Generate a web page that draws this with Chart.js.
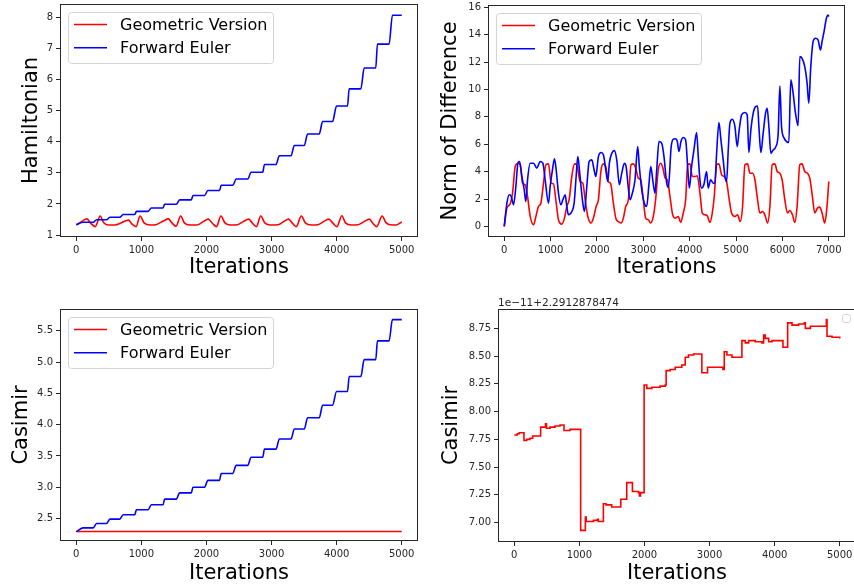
<!DOCTYPE html>
<html>
<head>
<meta charset="utf-8">
<script src="https://cdn.jsdelivr.net/npm/chart.js@4.4.1/dist/chart.umd.min.js"></script>
<style>
html, body { margin: 0; padding: 0; background: #fff; overflow: hidden; width: 854px; height: 586px; }
.box { position: absolute; }
</style>
</head>
<body>
<div class="box" style="left:0px;top:0px"><canvas id="c1" width="430" height="290"></canvas></div>
<div class="box" style="left:430px;top:0px"><canvas id="c2" width="424" height="290"></canvas></div>
<div class="box" style="left:0px;top:290px"><canvas id="c3" width="430" height="296"></canvas></div>
<div class="box" style="left:430px;top:290px"><canvas id="c4" width="430" height="296"></canvas></div>
<script>
var seriesNames = ['Geometric Version', 'Forward Euler'];

// tick values
var iterTicks = [0, 1000, 2000, 3000, 4000, 5000];
var normIterTicks = [0, 1000, 2000, 3000, 4000, 5000, 6000, 7000];
var hamTicks = [1, 2, 3, 4, 5, 6, 7, 8];
var normTicks = [0, 2, 4, 6, 8, 10, 12, 14, 16];
var casTicks = [2.5, 3.0, 3.5, 4.0, 4.5, 5.0, 5.5];
var casZoomTicks = [7.00, 7.25, 7.50, 7.75, 8.00, 8.25, 8.50, 8.75];

// Hamiltonian, geometric version
var hamGeoX = [0, 87, 163, 214, 291, 368, 419, 495, 598, 700, 802, 853, 919, 980, 1042, 1134, 1236, 1338, 1415, 1466,
  1532, 1604, 1660, 1747, 1849, 1951, 2028, 2094, 2155, 2222, 2283, 2375, 2477, 2564, 2651, 2707, 2768, 2834, 2896, 2988,
  3100, 3187, 3263, 3320, 3381, 3457, 3519, 3611, 3713, 3800, 3881, 3943, 4004, 4080, 4136, 4228, 4330, 4422, 4504, 4555,
  4617, 4698, 4760, 4852, 4913, 5000];
var hamGeoY = [1.33, 1.44, 1.52, 1.40, 1.27, 1.61, 1.40, 1.32, 1.32, 1.40, 1.48, 1.36, 1.27, 1.61, 1.39, 1.32, 1.34, 1.45, 1.52, 1.40,
  1.28, 1.61, 1.39, 1.32, 1.32, 1.43, 1.51, 1.37, 1.27, 1.61, 1.39, 1.32, 1.33, 1.43, 1.51, 1.38, 1.27, 1.61, 1.39, 1.32,
  1.33, 1.43, 1.51, 1.38, 1.27, 1.61, 1.39, 1.32, 1.33, 1.43, 1.51, 1.38, 1.27, 1.62, 1.39, 1.32, 1.33, 1.43, 1.51, 1.38,
  1.27, 1.61, 1.39, 1.32, 1.32, 1.42];

// forward euler staircases (flat start / flat end of each step)
var stepStartX = [107, 312, 516, 720, 924, 1154, 1358, 1588, 1793, 2022, 2227, 2456, 2686, 2891, 3120, 3350, 3554, 3784, 3999, 4193, 4423, 4627, 4857];
var stepEndX = [260, 465, 669, 899, 1103, 1333, 1537, 1767, 1971, 2201, 2405, 2635, 2865, 3069, 3299, 3503, 3733, 3937, 4167, 4372, 4601, 4806, 5000];
var hamEulerStart = 1.33;
var hamEulerLevels = [1.41, 1.49, 1.57, 1.66, 1.76, 1.87, 1.99, 2.13, 2.27, 2.43, 2.60, 2.80, 3.02, 3.27, 3.55, 3.88, 4.25, 4.65, 5.15, 5.70, 6.37, 7.14, 8.07];
var casEulerStart = 2.29;
var casEulerLevels = [2.35, 2.42, 2.49, 2.56, 2.64, 2.72, 2.81, 2.91, 3.00, 3.11, 3.22, 3.35, 3.48, 3.61, 3.77, 3.93, 4.11, 4.31, 4.53, 4.77, 5.04, 5.34, 5.68];

// Casimir, geometric version
var casGeoX = [0, 5000];
var casGeoY = [2.2913, 2.2913];

// norm of difference
var normGeoX = [0, 58, 129, 179, 237, 295, 345, 395, 452, 503, 560, 632, 683, 740, 790, 847, 898, 955, 1012, 1062,
  1113, 1170, 1242, 1299, 1350, 1400, 1458, 1515, 1565, 1637, 1695, 1745, 1803, 1874, 1924, 1982, 2031, 2089, 2139, 2190,
  2247, 2297, 2354, 2412, 2462, 2520, 2570, 2620, 2677, 2735, 2785, 2836, 2892, 2943, 3000, 3050, 3107, 3158, 3215, 3265,
  3322, 3373, 3420, 3470, 3520, 3575, 3630, 3683, 3755, 3806, 3862, 3913, 3956, 4006, 4056, 4114, 4164, 4222, 4272, 4329,
  4379, 4437, 4487, 4530, 4581, 4631, 4689, 4746, 4796, 4853, 4904, 4976, 5033, 5091, 5141, 5191, 5249, 5299, 5357, 5407,
  5464, 5514, 5572, 5622, 5680, 5730, 5779, 5837, 5887, 5945, 5994, 6052, 6109, 6159, 6217, 6267, 6317, 6375, 6424, 6482,
  6540, 6590, 6647, 6697, 6755, 6805, 6855, 6913, 6962, 7000];
var normGeoY = [0, 1.34, 1.66, 2.43, 4.38, 4.62, 4.5, 3.16, 3.04, 2.19, 0.73, 0.12, 0.73, 1.46, 1.7, 3.16, 4.5, 4.57, 3.16, 3.11,
  1.95, 0.49, 0.17, 0.61, 1.46, 1.95, 3.65, 4.57, 4.5, 3.28, 3.16, 1.95, 0.73, 0.25, 0.61, 1.46, 1.95, 4.14, 4.57, 4.38,
  3.28, 3.11, 1.7, 0.54, 0.36, 0.25, 0.61, 1.46, 1.95, 4.5, 4.57, 4.26, 3.53, 3.41, 1.95, 0.61, 0.49, 0.25, 0.73, 1.95,
  4.14, 4.62, 4.3, 3.55, 3.4, 2.2, 0.9, 0.61, 0.73, 0.29, 0.98, 1.95, 4.5, 4.57, 3.65, 3.65, 3.7, 2.43, 0.98, 0.85,
  0.78, 0.29, 0.98, 2.19, 4.5, 4.57, 3.77, 3.65, 3.28, 1.95, 0.98, 0.73, 0.85, 0.36, 1.46, 4.5, 4.57, 3.89, 3.89, 3.41,
  1.95, 0.98, 1.09, 0.85, 0.25, 1.46, 4.5, 4.57, 4.01, 3.89, 3.41, 1.95, 0.98, 1.17, 0.85, 0.29, 1.46, 4.5, 4.57, 4.01,
  3.89, 3.53, 2.19, 0.98, 1.34, 1.41, 0.98, 0.25, 1.46, 3.28];
var normEulerX = [0, 58, 108, 151, 201, 251, 295, 330, 381, 431, 467, 503, 560, 632, 703, 775, 833, 883, 955, 991,
  1040, 1084, 1120, 1170, 1221, 1264, 1314, 1350, 1385, 1458, 1508, 1551, 1587, 1622, 1686, 1730, 1781, 1831, 1889, 1938,
  1975, 2031, 2089, 2139, 2190, 2233, 2268, 2320, 2376, 2427, 2483, 2535, 2591, 2628, 2677, 2714, 2763, 2821, 2879, 2914,
  2966, 3022, 3073, 3123, 3160, 3203, 3252, 3289, 3338, 3396, 3446, 3504, 3540, 3600, 3640, 3690, 3733, 3769, 3812, 3862,
  3913, 3956, 3991, 4042, 4092, 4150, 4185, 4221, 4257, 4305, 4365, 4400, 4451, 4508, 4544, 4581, 4631, 4674, 4723, 4760,
  4796, 4832, 4868, 4918, 4976, 5025, 5068, 5120, 5191, 5240, 5277, 5320, 5370, 5422, 5465, 5493, 5536, 5585, 5637, 5671,
  5708, 5751, 5801, 5859, 5909, 5945, 5981, 6038, 6089, 6138, 6181, 6231, 6282, 6339, 6375, 6424, 6482, 6532, 6569, 6612,
  6662, 6712, 6769, 6820, 6855, 6898, 6949, 6984, 7000];
var normEulerY = [0, 1.7, 2.31, 2.19, 1.58, 2.92, 4.62, 4.74, 3.65, 2.68, 1.82, 3.41, 4.62, 4.62, 4.26, 4.74, 4.62, 3.41, 1.7, 2.92,
  4.14, 4.94, 4.14, 2.43, 1.58, 1.95, 2.31, 1.46, 0.85, 1.09, 1.7, 3.65, 5.1, 4.14, 1.95, 1.09, 2.92, 4.74, 4.86, 4.14,
  3.65, 5.1, 5.4, 5.23, 4.14, 3.28, 4.62, 5.35, 5.54, 4.86, 3.04, 3.89, 4.62, 4.38, 2.8, 1.95, 2.43, 3.41, 5.83, 4.38,
  2.68, 1.7, 1.46, 3.16, 4.38, 3.41, 2.43, 4.14, 6.2, 6.08, 5.1, 3.16, 2.85, 5.8, 6.35, 6.4, 6.2, 5.47, 6.2, 6.49,
  6.32, 4.38, 2.8, 4.38, 5.59, 6.86, 5.1, 3.41, 2.8, 3.04, 4.01, 2.8, 3.41, 3.16, 3.16, 5.35, 7.59, 6.32, 4.86, 3.65,
  3.28, 5.59, 7.54, 7.83, 7.29, 5.83, 7.05, 8.15, 8.32, 8.15, 5.4, 7.05, 8.27, 8.75, 8.8, 7.29, 5.4, 6.81, 8.27, 8.63,
  7.29, 5.35, 5.59, 5.83, 6.81, 10.26, 7.29, 6.45, 6.2, 6.13, 10.7, 9.73, 8.27, 7.35, 12.4, 12.28, 11.67, 10.46, 9.0, 11.67,
  13.5, 13.74, 13.62, 12.89, 13.5, 14.22, 15.2, 15.44, 15.32];

// Casimir of geometric version, zoomed (values in 1e-11 above 2.2912878474)
var casZoomX = [0, 46, 77, 149, 190, 241, 282, 405, 480, 495, 549, 626, 703, 764, 856, 1020, 1092, 1105, 1215, 1277,
  1292, 1369, 1410, 1497, 1636, 1728, 1815, 1908, 1923, 1940, 1995, 2036, 2113, 2241, 2318, 2333, 2395, 2472, 2574, 2626,
  2677, 2754, 2882, 2969, 3205, 3226, 3267, 3344, 3497, 3549, 3600, 3702, 3805, 3831, 3856, 3908, 3959, 4128, 4200, 4267,
  4369, 4456, 4472, 4549, 4795, 4805, 4882, 5000];
var casZoomY = [7.79, 7.80, 7.81, 7.74, 7.75, 7.76, 7.78, 7.86, 7.89, 7.85, 7.86, 7.87, 7.88, 7.83, 7.84, 6.93, 7.05, 7.01, 7.02, 7.03,
  7.01, 7.17, 7.16, 7.14, 7.21, 7.36, 7.28, 7.27, 7.24, 7.27, 8.24, 8.21, 8.22, 8.23, 8.24, 8.37, 8.38, 8.40, 8.42, 8.49,
  8.51, 8.52, 8.35, 8.40, 8.38, 8.54, 8.51, 8.49, 8.64, 8.62, 8.64, 8.63, 8.62, 8.69, 8.66, 8.63, 8.64, 8.58, 8.80, 8.78,
  8.79, 8.80, 8.75, 8.77, 8.83, 8.68, 8.67, 8.66];

Chart.defaults.font.family = '"DejaVu Sans", sans-serif';

var pts = function (xs, ys) {
  return xs.map(function (x, i) { return { x: x, y: ys[i] }; });
};

var staircase = function (start, levels) {
  var out = [{ x: 0, y: start }];
  for (var i = 0; i < levels.length; i++) {
    out.push({ x: stepStartX[i], y: levels[i] });
    out.push({ x: stepEndX[i], y: levels[i] });
  }
  return out;
};

var framePlugin = {
  id: 'frame',
  afterDraw: function (chart, args, o) {
    var a = chart.chartArea;
    var ctx = chart.ctx;
    ctx.save();
    ctx.strokeStyle = '#262626';
    ctx.lineWidth = 1;
    ctx.strokeRect(a.left + 0.5, a.top + 0.5, a.right - a.left - 1, a.bottom - a.top - 1);
    if (o.legend === 'box') {
      var lx = a.left + 8, ly = a.top + 8;
      ctx.beginPath();
      ctx.roundRect(lx + 0.5, ly + 0.5, 205, 51, 3);
      ctx.fillStyle = 'rgba(255,255,255,0.8)';
      ctx.fill();
      ctx.strokeStyle = '#d4d4d4';
      ctx.stroke();
      chart.data.datasets.forEach(function (ds, i) {
        var ry = ly + 12.5 + i * 23.3;
        ctx.beginPath();
        ctx.moveTo(lx + 6, ry);
        ctx.lineTo(lx + 39, ry);
        ctx.strokeStyle = ds.borderColor;
        ctx.lineWidth = 1.6;
        ctx.stroke();
        ctx.fillStyle = '#000';
        ctx.font = '16px "DejaVu Sans"';
        ctx.textBaseline = 'middle';
        ctx.textAlign = 'left';
        ctx.fillText(ds.label, lx + 52, ry + 1);
      });
    }
    if (o.legend === 'empty') {
      ctx.beginPath();
      ctx.roundRect(a.right - 13.5, a.top + 5.5, 8, 8, 2);
      ctx.fillStyle = 'rgba(255,255,255,0.8)';
      ctx.fill();
      ctx.strokeStyle = '#d4d4d4';
      ctx.stroke();
    }
    if (o.offsetText) {
      ctx.font = '10.5px "DejaVu Sans"';
      ctx.fillStyle = '#262626';
      ctx.textBaseline = 'alphabetic';
      ctx.textAlign = 'left';
      ctx.fillText(o.offsetText, a.left, a.top - 3);
    }
    ctx.restore();
  }
};

var axis = function (dir, min, max, ticks, dec, size, title, titlePad) {
  return {
    type: 'linear',
    position: dir === 'x' ? 'bottom' : 'left',
    min: min,
    max: max,
    afterBuildTicks: function (sc) {
      sc.ticks = ticks.map(function (v) { return { value: v }; });
    },
    afterFit: function (sc) {
      if (dir === 'x') sc.height = size; else sc.width = size;
      sc.paddingTop = 0; sc.paddingBottom = 0; sc.paddingLeft = 0; sc.paddingRight = 0;
    },
    ticks: {
      autoSkip: false, maxRotation: 0, padding: 3, color: '#262626', font: { size: 10 },
      callback: function (v) { return Number(v).toFixed(dec); }
    },
    grid: { drawOnChartArea: false, drawTicks: true, tickLength: 4, color: '#262626' },
    border: { display: false },
    title: {
      display: true, text: title, color: '#000', font: { size: 21 },
      padding: dir === 'x' ? { top: 0, bottom: titlePad } : { top: titlePad, bottom: 0 }
    }
  };
};

var line = function (label, color, data, extra) {
  var ds = { label: label, data: data, borderColor: color, backgroundColor: color, borderWidth: 1.6,
    pointRadius: 0, fill: false, cubicInterpolationMode: 'monotone', order: color === 'blue' ? 0 : 1 };
  for (var k in extra) ds[k] = extra[k];
  return ds;
};

var makeChart = function (id, s) {
  return new Chart(document.getElementById(id), {
    type: 'line',
    data: { datasets: s.datasets },
    options: {
      responsive: false,
      animation: false,
      devicePixelRatio: 1,
      layout: { padding: s.pad },
      plugins: { legend: { display: false }, tooltip: { enabled: false }, frame: s.frame },
      scales: { x: s.x, y: s.y }
    },
    plugins: [framePlugin]
  });
};

makeChart('c1', {
  datasets: [
    line(seriesNames[0], 'red', pts(hamGeoX, hamGeoY)),
    line(seriesNames[1], 'blue', staircase(hamEulerStart, hamEulerLevels))
  ],
  pad: { left: 0, top: 4, right: 12, bottom: 0 },
  x: axis('x', -250, 5250, iterTicks, 0, 53, 'Iterations', 9.4),
  y: axis('y', 0.936, 8.43, hamTicks, 0, 60, 'Hamiltonian', 19),
  frame: { legend: 'box' }
});

makeChart('c2', {
  datasets: [
    line(seriesNames[0], 'red', pts(normGeoX, normGeoY)),
    line(seriesNames[1], 'blue', pts(normEulerX, normEulerY))
  ],
  pad: { left: 0, top: 5, right: 9, bottom: 0 },
  x: axis('x', -350, 7350, normIterTicks, 0, 53, 'Iterations', 9.4),
  y: axis('y', -0.77, 16.17, normTicks, 0, 58, 'Norm of Difference', 8),
  frame: { legend: 'box' }
});

makeChart('c3', {
  datasets: [
    line(seriesNames[0], 'red', pts(casGeoX, casGeoY), { cubicInterpolationMode: 'default', tension: 0 }),
    line(seriesNames[1], 'blue', staircase(casEulerStart, casEulerLevels))
  ],
  pad: { left: 0, top: 19, right: 12, bottom: 0 },
  x: axis('x', -250, 5250, iterTicks, 0, 45, 'Iterations', 0),
  y: axis('y', 2.14, 5.85, casTicks, 1, 60, 'Casimir', 8.7),
  frame: { legend: 'box' }
});

makeChart('c4', {
  datasets: [
    line('', 'red', pts(casZoomX, casZoomY), { stepped: true, cubicInterpolationMode: 'default', tension: 0 })
  ],
  pad: { left: 0, top: 19, right: 4, bottom: 0 },
  x: axis('x', -250, 5250, iterTicks, 0, 44, 'Iterations', 0),
  y: axis('y', 6.825, 8.925, casZoomTicks, 2, 68, 'Casimir', 9.1),
  frame: { legend: 'empty', offsetText: '1e\u221211+2.2912878474' }
});
</script>
</body>
</html>
